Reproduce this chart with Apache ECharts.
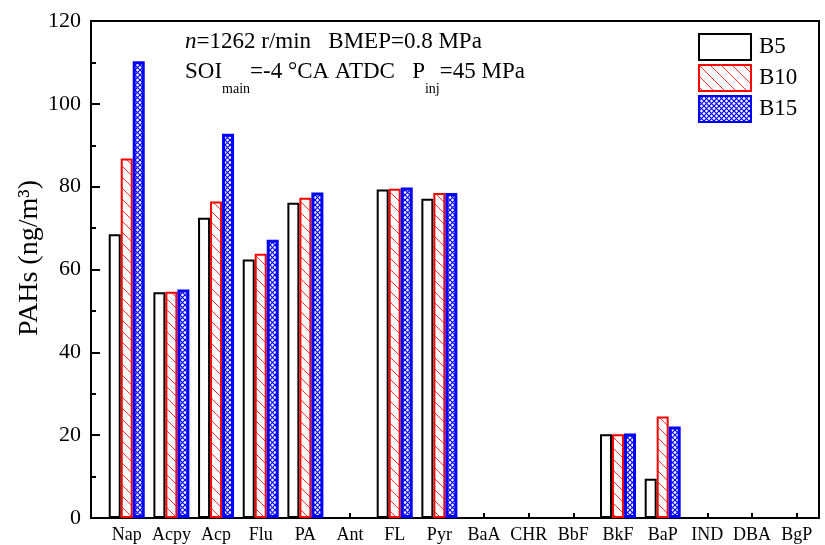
<!DOCTYPE html>
<html><head><meta charset="utf-8">
<script src="https://cdn.jsdelivr.net/npm/echarts@6/dist/echarts.min.js"></script>
<style>html,body{margin:0;padding:0;background:#fff}#c{width:825px;height:545px}</style>
</head><body><div id="c"></div>
<script>
const categories = ['Nap','Acpy','Acp','Flu','PA','Ant','FL','Pyr','BaA','CHR','BbF','BkF','BaP','IND','DBA','BgP'];
const seriesNames = ['B5','B10','B15'];
const b5Values  = [68.5, 54.5, 72.5, 62.4, 76.1, null, 79.3, 77.1, null, null, null, 20.2, 9.5, null, null, null];
const b10Values = [86.8, 54.6, 76.4, 63.8, 77.3, null, 79.5, 78.5, null, null, null, 20.2, 24.5, null, null, null];
const b15Values = [110.3, 55.2, 92.8, 67.2, 78.6, null, 79.8, 78.5, null, null, null, 20.4, 22.1, null, null, null];
const yTickValues = [0, 20, 40, 60, 80, 100, 120];

const FONT = "'Liberation Serif', 'Times New Roman', serif";

function makeHatch(color, size, lw) {
  const c = document.createElement('canvas');
  c.width = size; c.height = size;
  const g = c.getContext('2d');
  g.fillStyle = '#fff'; g.fillRect(0, 0, size, size);
  g.strokeStyle = color; g.lineWidth = lw;
  for (const k of [-size, 0, size]) {
    g.beginPath(); g.moveTo(k, 0); g.lineTo(k + size, size); g.stroke();
  }
  return { image: c, repeat: 'repeat' };
}
function makeCross(color, size, lw) {
  const c = document.createElement('canvas');
  c.width = size; c.height = size;
  const g = c.getContext('2d');
  g.fillStyle = '#fff'; g.fillRect(0, 0, size, size);
  g.strokeStyle = color; g.lineWidth = lw;
  for (const k of [-size, 0, size]) {
    g.beginPath(); g.moveTo(k, 0); g.lineTo(k + size, size); g.stroke();
    g.beginPath(); g.moveTo(k, size); g.lineTo(k + size, 0); g.stroke();
  }
  return { image: c, repeat: 'repeat' };
}

const toPairs = arr => arr.map((v, i) => [i, v]).filter(p => p[1] !== null);
const idx = categories.map((_, i) => i);

const chart = echarts.init(document.getElementById('c'), null, { renderer: 'canvas' });
chart.setOption({
  animation: false,
  backgroundColor: '#fff',
  textStyle: { fontFamily: FONT },
  grid: { left: 91, right: 6, top: 21, bottom: 27, show: true, borderColor: '#000', borderWidth: 2, backgroundColor: 'transparent' },
  xAxis: {
    type: 'value', min: -0.8, max: 15.5,
    splitLine: { show: false },
    axisLine: { show: true, onZero: false, lineStyle: { color: '#000', width: 2 } },
    axisTick: { show: true, inside: true, length: 5, customValues: idx, lineStyle: { color: '#000', width: 2 } },
    axisLabel: { customValues: idx, formatter: v => categories[v], fontSize: 18, fontFamily: FONT, color: '#000', margin: 8 }
  },
  yAxis: {
    type: 'value', min: 0, max: 120, interval: 20,
    splitLine: { show: false },
    axisLine: { show: true, onZero: false, lineStyle: { color: '#000', width: 2 } },
    axisTick: { show: true, inside: true, length: 9, lineStyle: { color: '#000', width: 2 } },
    minorTick: { show: true, splitNumber: 2, length: 5, lineStyle: { color: '#000', width: 2 } },
    axisLabel: { fontSize: 22, fontFamily: FONT, color: '#000', margin: 10,
      formatter: v => (yTickValues.indexOf(v) >= 0 ? String(v) : '') }
  },
  legend: {
    orient: 'vertical', left: 698, top: 33, padding: 0, itemGap: 3,
    itemWidth: 52, itemHeight: 26, icon: 'rect',
    textStyle: { fontSize: 23, fontFamily: FONT, color: '#000', padding: [0, 0, 0, 3] },
    data: seriesNames
  },
  series: [
    { name: seriesNames[0], type: 'bar', barWidth: 12, barGap: 0, data: toPairs(b5Values),
      itemStyle: { color: '#fff', borderColor: '#000', borderWidth: 2 } },
    { name: seriesNames[1], type: 'bar', barWidth: 12, barGap: 0, data: toPairs(b10Values),
      itemStyle: { color: makeHatch('#ff3030', 11, 1), borderColor: '#ff0000', borderWidth: 2 } },
    { name: seriesNames[2], type: 'bar', barWidth: 12, barGap: 0, data: toPairs(b15Values),
      itemStyle: { color: makeCross('#0000ff', 5, 1.2), borderColor: '#0000ff', borderWidth: 3 } }
  ],
  graphic: [
    { type: 'text', x: 185, y: 41.5, style: {
        text: '{i|n}{a|=1262 r/min   BMEP=0.8 MPa}', verticalAlign: 'middle', align: 'left',
        rich: { i: { fontSize: 23, fontFamily: FONT, fontStyle: 'italic', fill: '#000' },
                a: { fontSize: 23, fontFamily: FONT, fill: '#000' } } } },
    { type: 'text', x: 185, y: 72.2, style: {
        text: '{a|SOI}{s|main}{a|=-4 °CA ATDC   P}{s|inj}{a|=45 MPa}', verticalAlign: 'middle', align: 'left',
        rich: { a: { fontSize: 23, fontFamily: FONT, fill: '#000' },
                s: { fontSize: 14, fontFamily: FONT, fill: '#000', padding: [34, 0, 0, 0] } } } },
    { type: 'text', x: 30, y: 258, rotation: Math.PI / 2, style: {
        text: 'PAHs (ng/m³)', fontSize: 28, fontFamily: FONT, fill: '#000', align: 'center', verticalAlign: 'middle' } }
  ]
});
</script></body></html>
